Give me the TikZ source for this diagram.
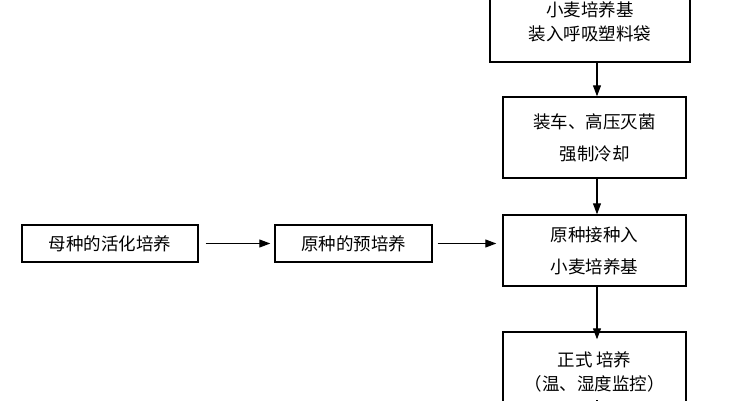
\documentclass[tikz,border=0pt]{standalone}
\usepackage{fontspec}
\setmainfont{Noto Sans CJK SC}
\usetikzlibrary{arrows.meta}
\begin{document}
\begin{tikzpicture}[x=1pt,y=-1pt,
  box/.style={draw,line width=1.4pt,align=center,font=\fontsize{17.5}{32}\selectfont},
  arr/.style={-{Triangle[length=11pt,width=8pt]},line width=1.1pt}]
\useasboundingbox (0,0) rectangle (750,400);
\node[box,minimum width=200,minimum height=80,font=\fontsize{17.5}{24}\selectfont] (a) at (590,22) {小麦培养基\\装入呼吸塑料袋};
\node[box,minimum width=183,minimum height=81] (b) at (594.5,137.5) {装车、高压灭菌\\强制冷却};
\node[box,minimum width=183,minimum height=71] (c) at (594.5,250.5) {原种接种入\\小麦培养基};
\node[box,minimum width=183,minimum height=80,font=\fontsize{17.5}{24}\selectfont] (d) at (594.5,372) {正式 培养\hspace{2.5em}\\（温、湿度监控）};
\node[box,minimum width=176,minimum height=37] (l1) at (110,243.5) {母种的活化培养};
\node[box,minimum width=157,minimum height=37] (l2) at (353.5,243.5) {原种的预培养};
\draw[arr] (a.south -| 597,0) -- (b.north -| 597,0);
\draw[arr] (b.south -| 597,0) -- (c.north -| 597,0);
\draw[arr] (c.south -| 597,0) -- ([yshift=-8]d.north -| 597,0);
\draw[arr] (l1.east) ++(7,0) -- ([xshift=-4]l2.west);
\draw[arr] ([xshift=5]l2.east) -- ([xshift=-6]c.west |- l2.east);
\coordinate (e) at (597,400);
\draw[line width=1.1pt] (d.south -| 597,0) -- (e);
\end{tikzpicture}
\end{document}
